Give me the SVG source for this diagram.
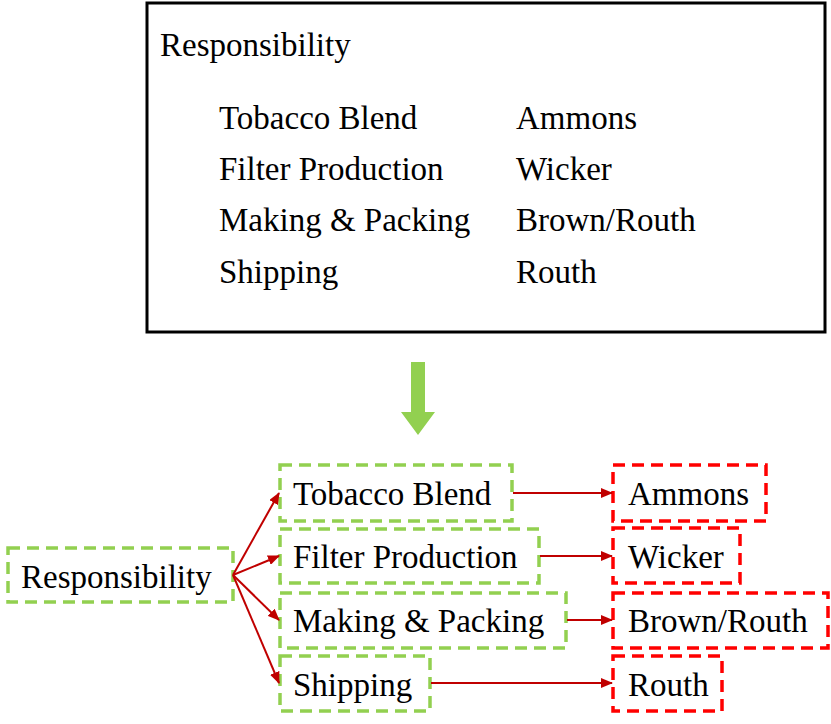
<svg xmlns="http://www.w3.org/2000/svg" width="831" height="724" viewBox="0 0 831 724">
<style>
text{font-family:"Liberation Serif","Times New Roman",serif;font-size:33px;fill:#000}
.g{fill:#fff;stroke:#92d050;stroke-width:3.5;stroke-dasharray:12,7}
.r{fill:#fff;stroke:#ff0000;stroke-width:3.5;stroke-dasharray:12,7}
.c{stroke:#c00000;stroke-width:2;fill:none;marker-end:url(#a)}
</style>
<defs><marker id="a" markerWidth="12" markerHeight="10" refX="11" refY="5" orient="auto" markerUnits="userSpaceOnUse"><path d="M0,0L12,5L0,10z" fill="#c00000"/></marker></defs>
<g id="summary">
<rect x="147" y="3" width="678" height="329" fill="#fff" stroke="#000" stroke-width="3"/>
<text x="160" y="56">Responsibility</text>
<text x="219" y="129">Tobacco Blend</text><text x="516" y="129">Ammons</text>
<text x="219" y="180">Filter Production</text><text x="516" y="180">Wicker</text>
<text x="219" y="231">Making &amp; Packing</text><text x="516" y="231">Brown/Routh</text>
<text x="219" y="283">Shipping</text><text x="516" y="283">Routh</text>
</g>
<g id="bigarrow"><path d="M411,362H425V412H435L418,435L401,412H411Z" fill="#92d050"/></g>
<g id="n0"><rect class="g" x="8" y="548" width="225" height="54"/><text x="21" y="588">Responsibility</text></g>
<g id="n1"><rect class="g" x="280" y="465" width="232" height="56"/><text x="293" y="505">Tobacco Blend</text></g>
<g id="n2"><rect class="g" x="280" y="529" width="259" height="54"/><text x="293" y="568">Filter Production</text></g>
<g id="n3"><rect class="g" x="280" y="593" width="286" height="55"/><text x="293" y="632">Making &amp; Packing</text></g>
<g id="n4"><rect class="g" x="280" y="656" width="150" height="55"/><text x="293" y="696">Shipping</text></g>
<g id="m1"><rect class="r" x="613" y="465" width="153" height="56"/><text x="628" y="505">Ammons</text></g>
<g id="m2"><rect class="r" x="613" y="528" width="127" height="55"/><text x="628" y="568">Wicker</text></g>
<g id="m3"><rect class="r" x="613" y="593" width="215" height="55"/><text x="628" y="632">Brown/Routh</text></g>
<g id="m4"><rect class="r" x="613" y="656" width="109" height="55"/><text x="628" y="696">Routh</text></g>
<g id="connectors">
<path class="c" d="M233,575L279,493"/>
<path class="c" d="M233,575L279,556"/>
<path class="c" d="M233,575L279,620"/>
<path class="c" d="M233,575L279,683"/>
<path class="c" d="M513,493H612"/>
<path class="c" d="M540,556H612"/>
<path class="c" d="M567,620H612"/>
<path class="c" d="M431,683H612"/>
</g>
</svg>
